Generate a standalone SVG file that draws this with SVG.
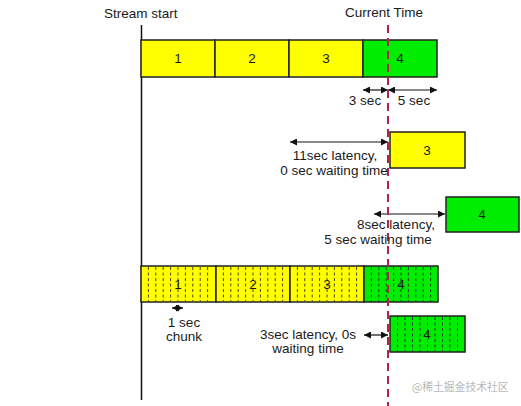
<svg xmlns="http://www.w3.org/2000/svg" width="521" height="406" viewBox="0 0 521 406">
<defs>
<style>
text{font-family:"Liberation Sans",Arial,sans-serif;font-size:13.5px;fill:#1a1a1a}
.c{text-anchor:middle}
.y{fill:#ffff00;stroke:#222;stroke-width:1.5}
.g{fill:#00ec00;stroke:#222;stroke-width:1.5}
.ch{stroke:#333;stroke-width:0.9;stroke-dasharray:3 2.5}
.a{stroke:#111;stroke-width:1.2;fill:none;marker-start:url(#ah);marker-end:url(#ah)}
</style>
<marker id="ah" viewBox="0 0 10 10" refX="10" refY="5" markerWidth="8" markerHeight="7" markerUnits="userSpaceOnUse" orient="auto-start-reverse">
<path d="M0,0 L10,5 L0,10 z" fill="#111"/>
</marker>
</defs>
<rect width="521" height="406" fill="#fff"/>

<g id="labels">
<text x="104" y="18">Stream start</text>
<text x="345" y="17">Current Time</text>
</g>

<g id="timeline-axis">
<line x1="141.5" y1="25" x2="141.5" y2="400" stroke="#111" stroke-width="1.5"/>
</g>

<g id="top-bar">
<rect class="y" x="141" y="40" width="74" height="37"/>
<rect class="y" x="215" y="40" width="74" height="37"/>
<rect class="y" x="289" y="40" width="74" height="37"/>
<rect class="g" x="363" y="40" width="74" height="37"/>
<text class="c" x="178" y="63">1</text>
<text class="c" x="252" y="63">2</text>
<text class="c" x="326" y="63">3</text>
<text class="c" x="400" y="63">4</text>
</g>

<g id="seg3-box">
<rect class="y" x="390" y="132" width="75" height="36"/>
<text class="c" x="427" y="155">3</text>
</g>

<g id="seg4-box">
<rect class="g" x="446" y="197" width="73" height="35"/>
<text class="c" x="482" y="219">4</text>
</g>

<g id="bottom-bar">
<rect class="y" x="141" y="266" width="75" height="36"/>
<rect class="y" x="216" y="266" width="74" height="36"/>
<rect class="y" x="290" y="266" width="74" height="36"/>
<rect class="g" x="364" y="266" width="74" height="36"/>
<g class="ch">
<line x1="148.4" y1="267" x2="148.4" y2="301"/><line x1="155.8" y1="267" x2="155.8" y2="301"/><line x1="163.2" y1="267" x2="163.2" y2="301"/><line x1="170.6" y1="267" x2="170.6" y2="301"/><line x1="178" y1="267" x2="178" y2="301"/><line x1="185.4" y1="267" x2="185.4" y2="301"/><line x1="192.8" y1="267" x2="192.8" y2="301"/><line x1="200.2" y1="267" x2="200.2" y2="301"/><line x1="207.6" y1="267" x2="207.6" y2="301"/>
<line x1="223.4" y1="267" x2="223.4" y2="301"/><line x1="230.8" y1="267" x2="230.8" y2="301"/><line x1="238.2" y1="267" x2="238.2" y2="301"/><line x1="245.6" y1="267" x2="245.6" y2="301"/><line x1="253" y1="267" x2="253" y2="301"/><line x1="260.4" y1="267" x2="260.4" y2="301"/><line x1="267.8" y1="267" x2="267.8" y2="301"/><line x1="275.2" y1="267" x2="275.2" y2="301"/><line x1="282.6" y1="267" x2="282.6" y2="301"/>
<line x1="297.4" y1="267" x2="297.4" y2="301"/><line x1="304.8" y1="267" x2="304.8" y2="301"/><line x1="312.2" y1="267" x2="312.2" y2="301"/><line x1="319.6" y1="267" x2="319.6" y2="301"/><line x1="327" y1="267" x2="327" y2="301"/><line x1="334.4" y1="267" x2="334.4" y2="301"/><line x1="341.8" y1="267" x2="341.8" y2="301"/><line x1="349.2" y1="267" x2="349.2" y2="301"/><line x1="356.6" y1="267" x2="356.6" y2="301"/>
<line x1="371.4" y1="267" x2="371.4" y2="301"/><line x1="378.8" y1="267" x2="378.8" y2="301"/><line x1="386.2" y1="267" x2="386.2" y2="301"/><line x1="393.6" y1="267" x2="393.6" y2="301"/><line x1="401" y1="267" x2="401" y2="301"/><line x1="408.4" y1="267" x2="408.4" y2="301"/><line x1="415.8" y1="267" x2="415.8" y2="301"/><line x1="423.2" y1="267" x2="423.2" y2="301"/><line x1="430.6" y1="267" x2="430.6" y2="301"/>
</g>
<text class="c" x="178" y="289">1</text>
<text class="c" x="253" y="289">2</text>
<text class="c" x="327" y="289">3</text>
<text class="c" x="401" y="289">4</text>
</g>

<g id="chunk4-box">
<rect class="g" x="390" y="316" width="75" height="36"/>
<g class="ch">
<line x1="397.5" y1="317" x2="397.5" y2="351"/><line x1="405" y1="317" x2="405" y2="351"/><line x1="412.5" y1="317" x2="412.5" y2="351"/><line x1="420" y1="317" x2="420" y2="351"/><line x1="427.5" y1="317" x2="427.5" y2="351"/><line x1="435" y1="317" x2="435" y2="351"/><line x1="442.5" y1="317" x2="442.5" y2="351"/><line x1="450" y1="317" x2="450" y2="351"/><line x1="457.5" y1="317" x2="457.5" y2="351"/>
</g>
<text class="c" x="427" y="339">4</text>
</g>

<g id="connectors">
<line class="a" x1="363" y1="90" x2="388" y2="90"/>
<line class="a" x1="388" y1="90" x2="437" y2="90"/>
<line class="a" x1="290" y1="142" x2="388" y2="142"/>
<line class="a" x1="374" y1="214" x2="445" y2="214"/>
<line class="a" x1="172" y1="308" x2="183" y2="308"/>
<line class="a" x1="364" y1="335" x2="388" y2="335"/>
</g>

<g id="current-time-line">
<line x1="388" y1="25" x2="388" y2="406" stroke="#b3224c" stroke-width="2" stroke-dasharray="8 5"/>
</g>

<g id="annotations">
<text class="c" x="365" y="105">3 sec</text>
<text class="c" x="414" y="105">5 sec</text>
<text class="c" x="335" y="160">11sec latency,</text>
<text class="c" x="334" y="175">0 sec waiting time</text>
<text class="c" x="396" y="229">8sec latency,</text>
<text class="c" x="378" y="244">5 sec waiting time</text>
<text class="c" x="184" y="327">1 sec</text>
<text class="c" x="184" y="341">chunk</text>
<text class="c" x="308" y="339">3sec latency, 0s</text>
<text class="c" x="308" y="353">waiting time</text>
<text x="412" y="391" style="font-family:'Noto Sans CJK SC',sans-serif;font-size:10.8px;fill:#b8b8b8">@稀土掘金技术社区</text>
</g>
</svg>
